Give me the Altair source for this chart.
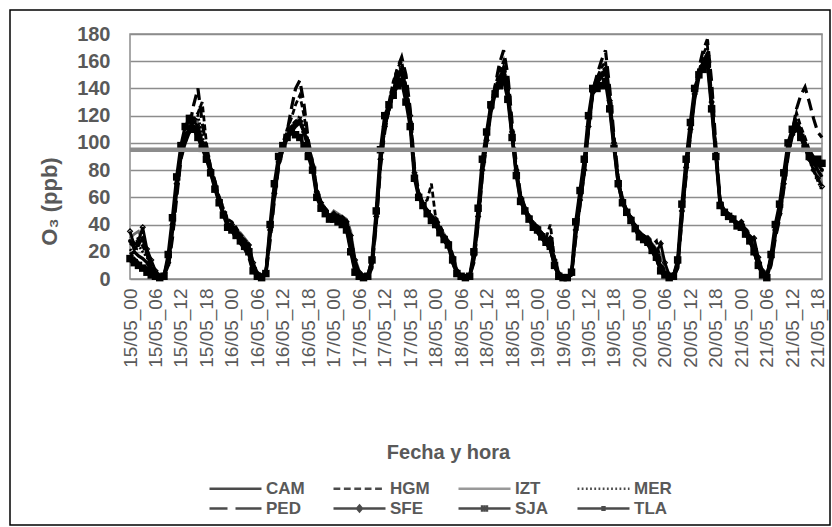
import altair as alt
import pandas as pd

stations = ["CAM", "HGM", "IZT", "MER", "PED", "SFE", "SJA", "TLA"]

tick_labels = [
    "15/05_00", "15/05_06", "15/05_12", "15/05_18",
    "16/05_00", "16/05_06", "16/05_12", "16/05_18",
    "17/05_00", "17/05_06", "17/05_12", "17/05_18",
    "18/05_00", "18/05_06", "18/05_12", "18/05_18",
    "19/05_00", "19/05_06", "19/05_12", "19/05_18",
    "20/05_00", "20/05_06", "20/05_12", "20/05_18",
    "21/05_00", "21/05_06", "21/05_12", "21/05_18",
]

# hourly O3 (ppb), 15/05 00h .. 21/05 19h
CAM = ([18,20,17,15,12,6,3,1,2,10,35,65,90,100,108,112,110,98,90,78,68,57,48,40]
     + [36,32,28,24,18,6,2,1,4,32,60,84,95,103,108,112,115,108,96,82,62,54,49,45]
     + [45,43,42,40,25,8,3,1,1,10,42,85,112,125,138,148,152,135,118,78,62,55,50,45]
     + [40,34,28,24,12,4,2,1,2,14,42,78,100,122,136,146,152,136,105,78,58,50,44,38]
     + [34,30,26,22,10,2,1,1,3,32,55,78,110,136,144,148,152,128,98,70,56,49,43,37]
     + [30,28,25,20,15,6,3,1,2,8,45,78,106,132,148,158,162,128,92,55,49,46,44,39]
     + [38,33,28,20,10,3,1,12,32,46,68,92,105,112,106,98,90,86,80,75])
HGM = ([25,28,30,24,18,10,5,2,3,14,40,72,95,106,112,118,122,130,100,82,72,60,52,44]
     + [42,38,32,28,24,10,4,2,5,36,64,88,100,110,118,128,135,120,100,86,66,57,52,47]
     + [48,46,45,43,30,12,4,2,2,12,46,90,115,130,145,155,160,142,122,80,63,56,58,70]
     + [45,40,32,28,18,6,2,1,2,16,46,82,104,128,142,152,160,142,110,82,61,53,46,41]
     + [38,34,30,40,15,4,1,1,4,36,60,82,114,140,148,155,160,135,102,74,58,51,45,39]
     + [34,32,30,25,28,12,6,2,2,12,50,82,110,138,152,165,172,135,96,57,51,48,45,41]
     + [42,37,32,24,14,5,2,16,36,50,72,96,110,122,112,104,95,90,86,84])
IZT = ([30,33,35,28,20,12,6,3,4,15,42,70,93,104,112,118,115,102,92,80,70,58,50,42]
     + [40,36,34,30,26,12,5,3,6,38,64,86,98,106,112,116,118,110,98,84,64,56,51,46]
     + [50,48,46,44,35,15,6,3,3,15,48,88,112,124,136,146,150,136,116,76,62,56,51,46]
     + [44,38,33,28,18,7,3,2,3,18,46,80,102,124,136,146,150,138,106,80,60,52,46,41]
     + [38,34,30,27,16,5,2,2,5,36,58,80,112,136,144,150,154,132,100,72,58,51,45,39]
     + [34,32,30,26,22,18,10,3,3,12,50,82,108,134,150,160,164,130,94,56,50,47,45,40]
     + [42,36,31,24,14,5,3,16,36,48,70,94,106,112,108,100,92,85,78,70])
MER = ([22,18,25,20,16,9,4,2,3,11,36,66,90,102,110,114,120,105,93,80,70,59,50,41]
     + [38,34,30,27,22,9,3,2,4,34,62,85,97,104,110,114,120,112,99,85,65,56,50,46]
     + [46,44,42,40,28,10,4,2,2,11,44,86,110,124,136,148,154,138,118,78,62,55,50,45]
     + [42,36,30,26,15,5,2,1,2,15,44,79,101,124,137,148,156,140,108,80,60,52,45,40]
     + [36,32,28,25,12,3,1,1,4,34,57,80,112,138,146,150,156,133,100,72,58,50,44,38]
     + [32,30,28,22,18,8,4,1,2,10,48,80,108,135,150,160,166,132,94,56,50,47,45,40]
     + [40,35,30,22,12,4,2,14,34,47,70,95,108,116,110,100,90,80,72,65])
PED = ([12,15,12,10,8,4,2,1,2,8,30,60,88,100,112,128,140,115,96,82,72,60,52,43]
     + [35,30,26,22,16,5,2,1,3,28,58,82,96,108,125,140,146,128,102,86,66,56,50,45]
     + [44,42,40,38,22,6,2,1,1,8,40,82,108,125,142,155,163,150,125,82,64,56,50,44]
     + [40,33,28,24,12,4,1,1,2,12,40,76,100,126,142,158,168,150,115,84,62,53,45,39]
     + [34,30,26,22,10,2,1,1,3,30,54,78,110,138,150,160,168,140,105,75,59,51,44,37]
     + [30,28,26,20,15,5,2,1,1,8,44,76,106,136,155,168,176,145,98,58,51,48,45,39]
     + [38,33,28,20,10,3,1,10,30,44,66,90,108,125,135,141,130,118,108,104])
SFE = ([35,25,28,38,22,14,6,2,3,12,40,70,94,106,110,116,112,100,90,80,68,58,48,40]
     + [40,36,32,28,25,12,4,2,5,36,63,86,98,105,111,115,116,108,96,83,64,56,51,46]
     + [48,46,45,42,32,14,5,2,3,14,46,88,112,126,138,150,155,140,120,78,62,55,50,46]
     + [44,37,31,27,16,6,2,1,2,17,46,80,102,125,138,147,154,140,108,80,60,52,46,41]
     + [38,33,29,30,14,4,1,1,4,36,58,80,112,137,145,150,154,131,100,72,58,50,45,39]
     + [34,31,30,24,20,26,12,3,3,12,50,82,110,136,150,160,164,130,94,56,50,47,45,41]
     + [42,36,31,30,16,6,3,16,36,48,70,94,106,110,104,96,88,80,74,68])
SJA = ([15,12,10,8,5,3,2,1,2,18,45,75,98,112,118,110,104,96,88,78,66,56,47,38]
     + [36,32,28,24,20,6,2,1,4,40,70,90,98,104,108,106,104,98,90,80,60,52,48,44]
     + [44,42,40,36,20,5,2,1,2,14,50,95,120,128,135,142,145,130,112,74,60,54,48,43]
     + [40,34,29,25,14,4,2,1,2,20,52,88,108,128,136,142,146,132,104,76,57,50,44,38]
     + [36,31,27,24,10,2,1,1,5,42,65,88,120,140,140,142,145,125,96,70,56,49,43,37]
     + [31,29,27,21,16,6,3,1,2,14,55,88,115,140,150,154,158,125,90,54,49,46,44,39]
     + [38,33,28,20,10,3,1,18,40,55,78,100,110,112,104,96,90,86,88,85])
TLA = ([28,22,25,30,18,8,4,2,3,14,40,70,92,104,108,112,108,98,90,80,68,58,48,40]
     + [38,34,30,26,22,10,4,2,5,34,62,85,97,104,110,114,116,108,97,84,64,55,50,45]
     + [47,45,44,41,30,12,4,2,2,12,45,88,112,125,137,148,152,136,116,76,62,55,50,45]
     + [42,36,30,26,15,5,2,1,2,16,45,80,102,125,138,148,154,139,108,80,60,52,45,40]
     + [37,32,28,26,13,3,1,1,4,35,58,80,112,138,145,150,154,131,100,72,58,50,44,38]
     + [33,30,28,23,19,10,5,2,2,11,48,80,108,135,150,160,165,130,94,56,50,47,45,40]
     + [40,35,30,22,12,4,2,15,35,48,70,95,108,114,108,100,92,88,84,80])

limit_value = [95]

series = {"CAM": CAM, "HGM": HGM, "IZT": IZT, "MER": MER,
          "PED": PED, "SFE": SFE, "SJA": SJA, "TLA": TLA}

rows = []
for st, vals in series.items():
    for h, v in enumerate(vals):
        rows.append({"station": st, "hour": h, "o3": v})
df = pd.DataFrame(rows)

TXT = "#595959"
FONT = "Liberation Sans"

label_expr = "[" + ",".join("'" + t + "'" for t in tick_labels) + "][round(datum.value / 6)]"

x_enc = alt.X(
    "hour:Q",
    scale=alt.Scale(domain=[0, 163], nice=False, zero=False),
    axis=alt.Axis(
        values=[i * 6 for i in range(len(tick_labels))],
        labelExpr=label_expr,
        labelAngle=270,
        labelFont=FONT,
        labelFontSize=19,
        labelColor=TXT,
        labelPadding=9,
        labelFlush=False,
        labelOverlap=False,
        labelBound=False,
        ticks=False,
        domain=False,
        grid=False,
        title="Fecha y hora",
        titleFont=FONT,
        titleFontSize=20,
        titleFontWeight="bold",
        titleColor=TXT,
        titleX=318,
        titleY=173,
        titleAnchor="middle",
        titleAlign="center",
        titleBaseline="middle",
    ),
)
y_axis = alt.Axis(
    values=list(range(0, 181, 20)),
    labelFont=FONT,
    labelFontSize=20,
    labelFontWeight="bold",
    labelColor=TXT,
    labelPadding=20,
    labelFlush=False,
    labelOverlap=False,
    ticks=False,
    domain=False,
    grid=True,
    gridColor="#8c8c8c",
    gridWidth=1.5,
    title="O₃ (ppb)",
    titleFont=FONT,
    titleFontSize=22,
    titleFontWeight="bold",
    titleColor=TXT,
    titleAngle=270,
    titleX=-81,
    titleY=167,
    titleAlign="center",
    titleBaseline="middle",
)
y_scale = alt.Scale(domain=[0, 180], nice=False, zero=True)
y_enc = alt.Y("o3:Q", scale=y_scale, axis=y_axis)

line_styles = [
    ("IZT", dict(color="#6e6e6e", strokeWidth=2.8)),
    ("MER", dict(color="black", strokeWidth=2.8, strokeDash=[2, 2])),
    ("HGM", dict(color="black", strokeWidth=2.8, strokeDash=[6, 3])),
    ("PED", dict(color="black", strokeWidth=3.2, strokeDash=[12, 6])),
    ("CAM", dict(color="black", strokeWidth=3.3)),
    ("SFE", dict(color="black", strokeWidth=2.8)),
    ("TLA", dict(color="black", strokeWidth=2.8)),
    ("SJA", dict(color="black", strokeWidth=3.3)),
]

layers = []
for st, style in line_styles:
    layers.append(
        alt.Chart(df).transform_filter(alt.datum.station == st)
        .mark_line(**style).encode(x=x_enc, y=y_enc)
    )

layers.append(
    alt.Chart(df).transform_filter(alt.datum.station == "SFE")
    .mark_point(shape="diamond", size=24, filled=False, color="black", strokeWidth=1.2, opacity=1)
    .encode(x=x_enc, y=y_enc)
)
layers.append(
    alt.Chart(df).transform_filter(alt.datum.station == "TLA")
    .mark_point(shape="circle", size=16, filled=True, color="black", opacity=1)
    .encode(x=x_enc, y=y_enc)
)
layers.append(
    alt.Chart(df).transform_filter(alt.datum.station == "SJA")
    .mark_point(shape="square", size=56, filled=True, color="black", opacity=1)
    .encode(x=x_enc, y=y_enc)
)

limit = alt.Chart(pd.DataFrame({"o3": limit_value})).mark_rule(
    color="#8c8c8c", strokeWidth=4.5
).encode(y=y_enc)
layers.append(limit)

# legend glyphs: unit = 10 px, the line runs from -1 to 4.2 (52 px)
def dashes(on, off):
    parts, x = [], -1.0
    while x < 4.2:
        x2 = min(x + on, 4.2)
        parts.append("M%.3f,0H%.3f" % (x, x2))
        x = x2 + off
    return "".join(parts)

legend_paths = [
    "M-1,0H4.2",
    dashes(0.68, 0.36),
    "M-1,0H4.2",
    dashes(0.18, 0.24),
    "M-1,0H0.8M1.6,0H4.2",
    "M-1,0H4.2M1.6,-0.3L1.85,0L1.6,0.3L1.35,0Z",
    "M-1,0H4.2M1.35,-0.33V0.33M1.6,-0.33V0.33M1.85,-0.33V0.33",
    "M-1,0H4.2M1.5,-0.12H1.7V0.12H1.5Z",
]
legend_colors = ["black", "black", "#6e6e6e", "black", "black", "black", "black", "black"]

leg = dict(
    title=None,
    orient="none",
    legendX=78,
    legendY=443,
    columns=4,
    direction="horizontal",
    symbolSize=400,
    symbolStrokeWidth=2.4,
    labelFont=FONT,
    labelFontSize=17,
    labelFontWeight="bold",
    labelColor=TXT,
    labelOffset=35,
    columnPadding=23,
    rowPadding=0,
    padding=0,
)

legend_layer = (
    alt.Chart(pd.DataFrame({"station": stations}))
    .transform_filter("false")
    .mark_point(filled=False, strokeWidth=2.4)
    .encode(
        shape=alt.Shape("station:N", scale=alt.Scale(domain=stations, range=legend_paths),
                        legend=alt.Legend(**leg)),
        color=alt.Color("station:N", scale=alt.Scale(domain=stations, range=legend_colors),
                        legend=alt.Legend(**leg)),
    )
)
layers.append(legend_layer)

frame = alt.Chart(pd.DataFrame({"a": [0]})).mark_rect(
    fillOpacity=0, stroke="black", strokeWidth=1.5
).encode(x=alt.value(-120), x2=alt.value(700), y=alt.value(-24), y2=alt.value(491))
layers.append(frame)

chart = alt.layer(*layers).properties(
    width=692,
    height=245,
    padding={"left": 130, "top": 34, "right": 10, "bottom": 248},
    autosize=alt.AutoSizeParams(type="none"),
    background="white",
).configure_view(stroke="#8c8c8c", strokeWidth=1.5)

chart.save("out.html", embed_options={"renderer": "svg", "actions": False})
